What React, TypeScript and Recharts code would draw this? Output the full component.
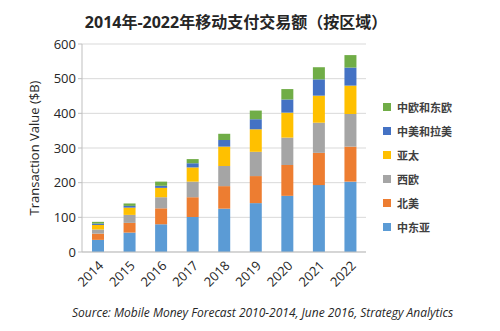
import React from "react"
import { BarChart, Bar, XAxis, YAxis, CartesianGrid, Label } from "recharts"

const years = ["2014", "2015", "2016", "2017", "2018", "2019", "2020", "2021", "2022"]

// 各区域交易额（十亿美元），自下而上堆叠
const middleEastAsia = [35, 56, 80, 101, 125, 141, 162, 193, 203]
const northAmerica = [18, 28, 46, 57, 65, 78, 89, 93, 101]
const westernEurope = [12, 23, 32, 45, 58, 70, 79, 87, 94]
const asiaPacific = [13, 21, 27, 41, 56, 65, 72, 78, 82]
const latinAmerica = [4, 5, 6, 12, 19, 29, 38, 47, 52]
const easternEurope = [5, 7, 12, 12, 18, 25, 30, 35, 36]

const yTicks = [0, 100, 200, 300, 400, 500, 600]

const SERIES = [
  { key: "mea", label: "中东亚", color: "#5B9BD5", values: middleEastAsia },
  { key: "na", label: "北美", color: "#ED7D31", values: northAmerica },
  { key: "we", label: "西欧", color: "#A5A5A5", values: westernEurope },
  { key: "ap", label: "亚太", color: "#FFC000", values: asiaPacific },
  { key: "la", label: "中美和拉美", color: "#4472C4", values: latinAmerica },
  { key: "ee", label: "中欧和东欧", color: "#70AD47", values: easternEurope },
]

const data = years.map((year, i) => {
  const row: Record<string, string | number> = { year }
  SERIES.forEach((s) => (row[s.key] = s.values[i]))
  return row
})

const FONT = "'Open Sans', 'Noto Sans CJK SC', sans-serif"

function RegionLegend() {
  // 图例顺序与堆叠顺序相反
  const items = [...SERIES].reverse()
  return (
    <div style={{ position: "absolute", left: 383, top: 95, fontFamily: "'Noto Sans CJK SC', sans-serif" }}>
      {items.map((s) => (
        <div key={s.key} style={{ display: "flex", alignItems: "center", height: 24 }}>
          <span style={{ width: 8, height: 8, background: s.color, marginRight: 6 }} />
          <span style={{ fontSize: 11, fontWeight: 700, color: "#404040" }}>{s.label}</span>
        </div>
      ))}
    </div>
  )
}

export default function App() {
  return (
    <div style={{ position: "fixed", left: 0, top: 0, width: 500, height: 331, background: "#fff", fontFamily: FONT }}>
      <div
        style={{
          position: "absolute",
          left: 0,
          width: 472,
          top: 9,
          textAlign: "center",
          fontSize: 16,
          fontWeight: 700,
          color: "#262626",
          fontFamily: FONT,
        }}
      >
        2014年-2022年移动支付交易额（按区域）
      </div>
      <BarChart
        width={500}
        height={331}
        data={data}
        margin={{ top: 44, right: 134, bottom: 0, left: 0 }}
        barSize={12}
      >
        <CartesianGrid vertical={false} stroke="#D9D9D9" />
        <XAxis
          dataKey="year"
          height={79}
          tickLine={false}
          axisLine={{ stroke: "#BFBFBF" }}
          interval={0}
          angle={-45}
          textAnchor="end"
          tick={{ fontSize: 13, fill: "#262626", fontFamily: FONT }}
        />
        <YAxis
          width={82}
          domain={[0, 600]}
          ticks={yTicks}
          tickSize={4}
          tickLine={{ stroke: "#BFBFBF" }}
          axisLine={{ stroke: "#BFBFBF" }}
          tick={{ fontSize: 13, fill: "#262626", fontFamily: FONT }}
        >
          <Label
            value="Transaction Value ($B)"
            angle={-90}
            position="center"
            dx={-7}
            style={{ fontSize: 13, fill: "#262626", fontFamily: FONT }}
          />
        </YAxis>
        {SERIES.map((s) => (
          <Bar key={s.key} dataKey={s.key} name={s.label} stackId="total" fill={s.color} isAnimationActive={false} />
        ))}
      </BarChart>
      <RegionLegend />
      <div
        style={{
          position: "absolute",
          left: 72,
          top: 304,
          fontSize: 12,
          fontStyle: "italic",
          color: "#262626",
          fontFamily: FONT,
          whiteSpace: "nowrap",
        }}
      >
        Source: Mobile Money Forecast 2010-2014, June 2016, Strategy Analytics
      </div>
    </div>
  )
}
